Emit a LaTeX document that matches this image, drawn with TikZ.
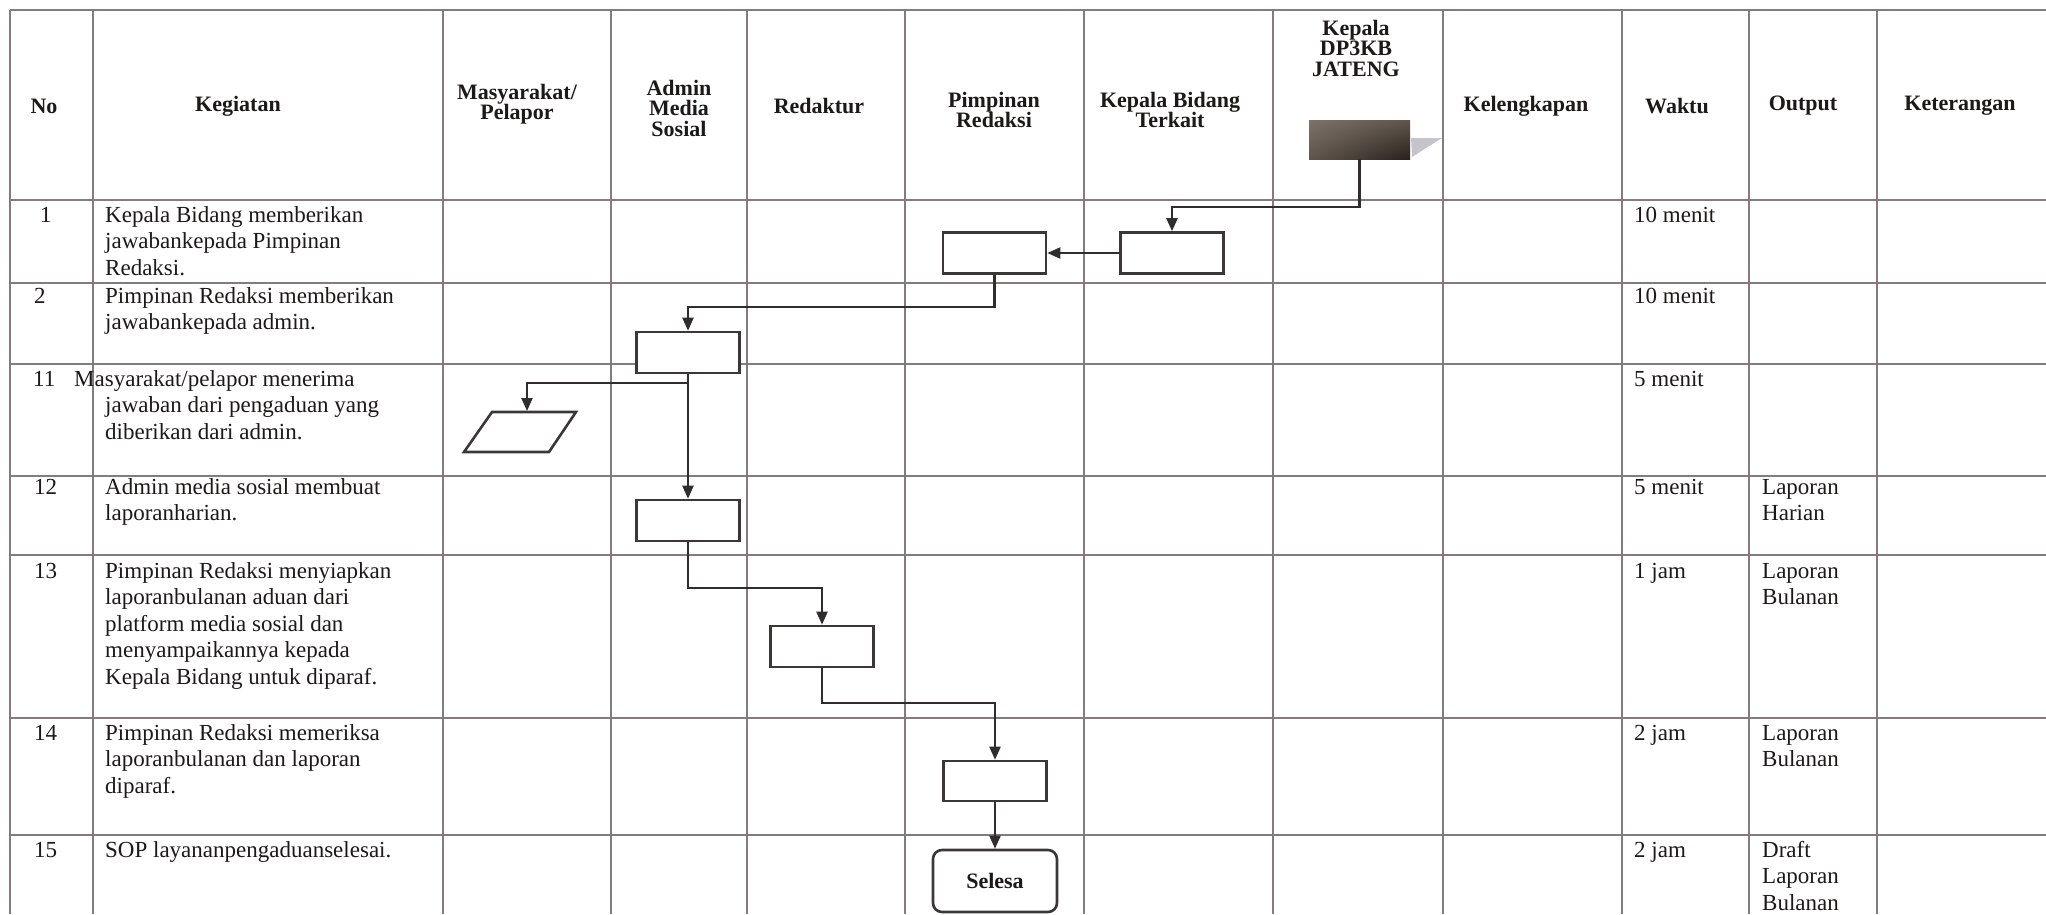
\documentclass[tikz,border=0pt]{standalone}
\usepackage{fontspec}
\setmainfont{Liberation Serif}
\usetikzlibrary{arrows.meta,calc,shadings}
\definecolor{gridc}{RGB}{135,122,126}
\definecolor{flowc}{RGB}{50,45,45}
\definecolor{boxc}{RGB}{60,55,55}
\definecolor{txt}{RGB}{30,25,25}
\definecolor{dkA}{RGB}{125,114,104}
\definecolor{dkB}{RGB}{95,85,76}
\definecolor{dkC}{RGB}{40,33,28}
\definecolor{shadowc}{RGB}{200,194,204}
\begin{document}
\begin{tikzpicture}[x=1pt,y=-1pt,
  gridline/.style={draw=gridc,line width=2pt},
  hd/.style={font=\fontsize{22}{20.5}\selectfont\bfseries,align=center,inner sep=0pt,text=txt},
  bd/.style={font=\fontsize{23}{26.5}\selectfont,align=left,anchor=north west,inner sep=0pt,text=txt},
  proc/.style={draw=boxc,line width=2.6pt,fill=white,minimum width=103pt,minimum height=41pt,inner sep=0pt},
  flow/.style={draw=flowc,line width=2.2pt,-{Triangle[length=13pt,width=11pt]}}]
\useasboundingbox (0,0) rectangle (2046,914);
\fill[white] (0,0) rectangle (2046,914);
% grid
\foreach \x in {10,93,443,611,747,905,1084,1273,1443,1622,1749,1877}
  \draw[gridline] (\x,10) -- (\x,914);
\foreach \y in {10,200,283,364,476,555,718,835}
  \draw[gridline] (10,\y) -- (2046,\y);
% header
\node[hd] (hNo) at (44,106) {No};
\node[hd] (hKeg) at (238,106) {Kegiatan};
\node[hd] (hMas) at (517,104) {Masyarakat/\\Pelapor};
\node[hd] (hAdm) at (679,108) {Admin\\Media\\Sosial};
\node[hd] (hRed) at (819,106) {Redaktur};
\node[hd] (hPim) at (994,110) {Pimpinan\\Redaksi};
\node[hd] (hKB) at (1170,110) {Kepala Bidang\\Terkait};
\node[hd] (hDP) at (1356,48) {Kepala\\DP3KB\\JATENG};
\node[hd] (hKel) at (1526,106) {Kelengkapan};
\node[hd] (hWak) at (1677,106) {Waktu};
\node[hd] (hOut) at (1803,106) {Output};
\node[hd] (hKet) at (1960,106) {Keterangan};
% dark start box
\fill[shadowc] (1411,138) -- (1442,138) -- (1412,157) -- cycle;
\node[shade,upper left=dkA,upper right=dkB,lower left=dkB,lower right=dkC,minimum width=101pt,minimum height=39pt,inner sep=0pt] (dp) at (1359.5,139.5) {};
% bend heights
\coordinate (b1) at (0,207);
\coordinate (b2) at (0,307);
\coordinate (b3) at (0,383);
\coordinate (b4) at (0,588);
\coordinate (b5) at (0,703);
% process boxes
\node[proc] (kb) at (1172,253) {};
\node[proc] (pr1) at (994.5,253) {};
\node[proc] (ad1) at (688,352.5) {};
\node[proc] (ad2) at (688,520.5) {};
\node[proc] (rd) at (822,646.5) {};
\node[proc,minimum height=40pt] (pr2) at (995,781) {};
\node[draw=boxc,line width=2.6pt,fill=white,rounded corners=9pt,minimum width=124pt,minimum height=62pt,inner sep=0pt,text=txt,font=\fontsize{22}{22}\selectfont\bfseries] (sel) at (995,881) {Selesa};
% parallelogram
\draw[draw=boxc,line width=2.6pt,fill=white,line join=miter] (492,412) -- (576,412) -- (549,452) -- (464,452) -- cycle;
\coordinate (paratop) at (527,411);
% connectors
\draw[flow] (dp.south) |- (kb.north |- b1) -- (kb.north);
\draw[flow] (kb.west) -- (pr1.east);
\draw[flow] (pr1.south) |- (ad1.north |- b2) -- (ad1.north);
\draw[flow] (ad1.south) -- (ad2.north);
\draw[flow] (ad1.south |- b3) -| (paratop);
\draw[flow] (ad2.south) |- (rd.north |- b4) -- (rd.north);
\draw[flow] (rd.south) |- (pr2.north |- b5) -- (pr2.north);
\draw[flow] (pr2.south) -- (sel.north);
% body rows
\node[bd] (n1) at (40,203.5) {\strut 1};
\node[bd] (k1) at (105,203.5) {\strut Kepala Bidang memberikan\\jawabankepada Pimpinan\\Redaksi.};
\node[bd] (w1) at (1634,203.5) {\strut 10 menit};
\node[bd] (n2) at (34,284.5) {\strut 2};
\node[bd] (k2) at (105,284.5) {\strut Pimpinan Redaksi memberikan\\jawabankepada admin.};
\node[bd] (w2) at (1634,284.5) {\strut 10 menit};
\node[bd] (n11) at (33,367.5) {\strut 11};
\node[bd] (k11) at (105,367.5) {\strut\hspace*{-31pt}Masyarakat/pelapor menerima\\jawaban dari pengaduan yang\\diberikan dari admin.};
\node[bd] (w11) at (1634,367.5) {\strut 5 menit};
\node[bd] (n12) at (34,475.5) {\strut 12};
\node[bd] (k12) at (105,475.5) {\strut Admin media sosial membuat\\laporanharian.};
\node[bd] (w12) at (1634,475.5) {\strut 5 menit};
\node[bd] (o12) at (1762,475.5) {\strut Laporan\\Harian};
\node[bd] (n13) at (34,559.5) {\strut 13};
\node[bd] (k13) at (105,559.5) {\strut Pimpinan Redaksi menyiapkan\\laporanbulanan aduan dari\\platform media sosial dan\\menyampaikannya kepada\\Kepala Bidang untuk diparaf.};
\node[bd] (w13) at (1634,559.5) {\strut 1 jam};
\node[bd] (o13) at (1762,559.5) {\strut Laporan\\Bulanan};
\node[bd] (n14) at (34,721.5) {\strut 14};
\node[bd] (k14) at (105,721.5) {\strut Pimpinan Redaksi memeriksa\\laporanbulanan dan laporan\\diparaf.};
\node[bd] (w14) at (1634,721.5) {\strut 2 jam};
\node[bd] (o14) at (1762,721.5) {\strut Laporan\\Bulanan};
\node[bd] (n15) at (34,838.5) {\strut 15};
\node[bd] (k15) at (105,838.5) {\strut SOP layananpengaduanselesai.};
\node[bd] (w15) at (1634,838.5) {\strut 2 jam};
\node[bd] (o15) at (1762,838.5) {\strut Draft\\Laporan\\Bulanan};
\end{tikzpicture}
\end{document}
